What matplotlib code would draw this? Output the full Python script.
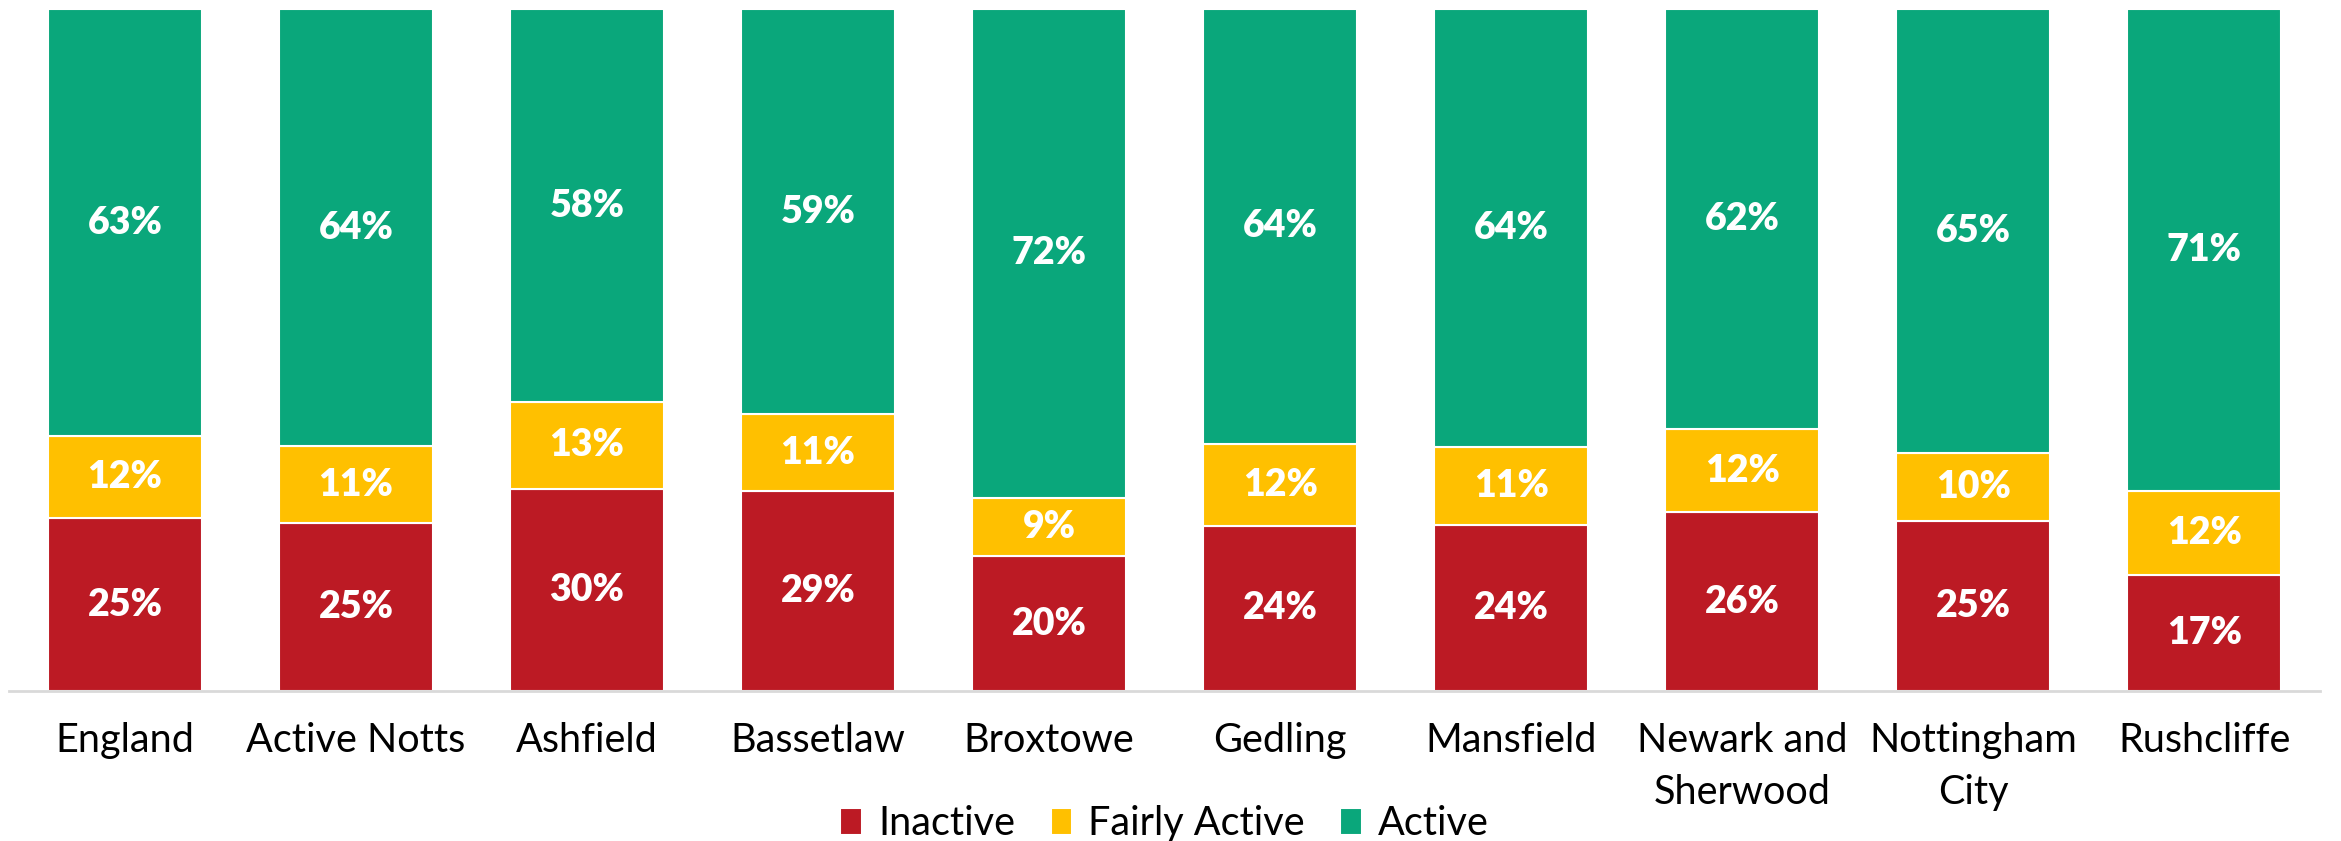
import matplotlib.pyplot as plt
import numpy as np

# data
areas = ["England", "Active Notts", "Ashfield", "Bassetlaw", "Broxtowe",
         "Gedling", "Mansfield", "Newark and\nSherwood", "Nottingham\nCity",
         "Rushcliffe"]
inactive = [25.4, 24.7, 29.7, 29.4, 19.8, 24.3, 24.4, 26.3, 24.9, 17.0]
fairly_active = [12.0, 11.2, 12.7, 11.2, 8.6, 12.0, 11.4, 12.1, 10.1, 12.3]
active = [62.6, 64.1, 57.6, 59.4, 71.6, 63.7, 64.2, 61.6, 65.0, 70.7]

series = [("Inactive", inactive, "#BC1A24"),
          ("Fairly Active", fairly_active, "#FFC000"),
          ("Active", active, "#0AA77B")]

plt.rcParams['font.family'] = ['Lato', 'DejaVu Sans']

fig = plt.figure(figsize=(23.41, 8.41), dpi=100)
ax = fig.add_axes([0.004, 0.178, 0.987, 0.811])

x = np.arange(len(areas))
width = 0.667
bottom = np.zeros(len(areas))

for name, vals, col in series:
    vals = np.array(vals)
    bars = ax.bar(x, vals, width, bottom=bottom, color=col, label=name,
                  edgecolor="white", linewidth=1.5)
    # labels in the middle of each segment
    for xi, b, v in zip(x, bottom, vals):
        ax.text(xi, b + v / 2, "{:.0f}%".format(v), ha="center", va="center",
                color="white", fontsize=27, fontweight="heavy")
    bottom += vals

ax.set_xlim(-0.5, 9.5)
ax.set_ylim(0, 100)
ax.set_yticks([])
for s in ["top", "right", "left"]:
    ax.spines[s].set_visible(False)
ax.spines["bottom"].set_color("#D9D9D9")
ax.spines["bottom"].set_linewidth(2)

ax.set_xticks(x)
ax.set_xticklabels(areas, fontsize=28.5, linespacing=1.5, va="top")
ax.tick_params(axis="x", length=0, pad=22)

ax.legend(loc="lower center", bbox_to_anchor=(0.5, -0.262), ncol=3,
          frameon=False, fontsize=28.5, handlelength=0.55, handleheight=0.7,
          handletextpad=0.4, columnspacing=0.9, borderpad=0.2)

fig.savefig("out.png", dpi=100)
